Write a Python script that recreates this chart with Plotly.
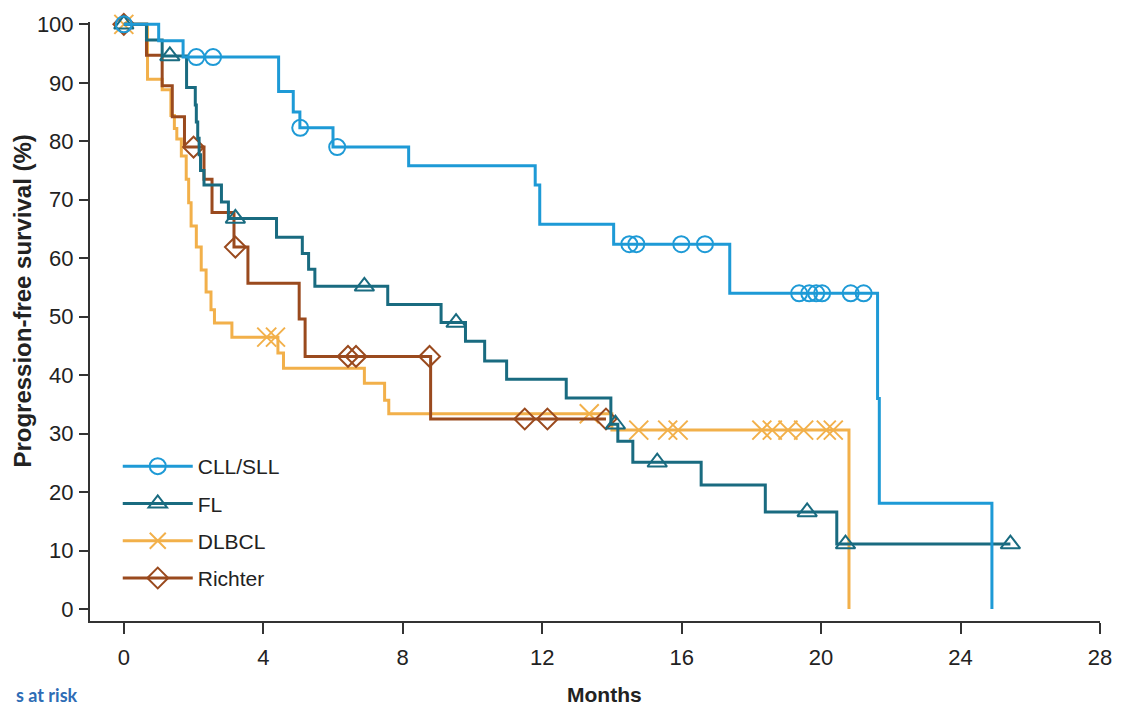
import plotly.graph_objects as go

# ---------------- data ----------------
# Kaplan-Meier step functions: event times (months) and survival (%) after each event
CLL_T = [0, 1.0, 1.7, 4.44, 4.86, 5.05, 6.0, 8.17, 11.8, 11.93, 14.05, 17.38, 21.62, 21.67, 24.9]
CLL_S = [100, 97.2, 94.4, 88.5, 85.0, 82.3, 79.0, 75.8, 72.5, 65.8, 62.4, 54.0, 36.0, 18.1, 0]
CLL_END = 24.9
CLL_CENS = [0, 2.08, 2.56, 5.06, 6.12, 14.5, 14.7, 15.99, 16.67, 19.37, 19.66, 19.86, 20.03, 20.85, 21.22]

FL_T = [0, 0.65, 1.1, 1.8, 2.05, 2.08, 2.12, 2.16, 2.2, 2.3, 2.8, 3.0, 4.38, 5.12, 5.3, 5.48,
        7.57, 9.1, 9.8, 10.35, 10.98, 12.69, 13.97, 14.17, 14.6, 16.56, 18.4, 20.45]
FL_S = [100, 97.3, 94.6, 89.2, 86.2, 83.3, 80.5, 77.7, 75.0, 72.5, 69.6, 66.8, 63.6, 60.8, 58.1, 55.2,
        52.1, 49.0, 45.8, 42.4, 39.3, 36.1, 31.6, 28.7, 25.1, 21.2, 16.6, 11.1]
FL_END = 25.43
FL_CENS = [0, 1.32, 3.2, 6.9, 9.53, 14.1, 15.3, 19.6, 20.7, 25.43]

DLBCL_T = [0, 0.68, 1.1, 1.35, 1.45, 1.52, 1.65, 1.79, 1.86, 1.93, 2.08, 2.22, 2.36, 2.5, 2.6,
           3.1, 4.42, 4.58, 6.9, 7.48, 7.6, 14.0, 20.8]
DLBCL_S = [100, 90.6, 88.8, 84.4, 82.2, 80.4, 77.5, 73.5, 69.5, 65.5, 61.9, 58.0, 54.2, 51.2, 48.9,
           46.5, 43.8, 41.2, 38.6, 35.7, 33.4, 30.6, 0]
DLBCL_END = 20.8
DLBCL_CENS = [0, 4.1, 4.35, 13.35, 14.77, 15.6, 15.9, 18.3, 18.6, 19.05, 19.5, 20.15, 20.35]

RICHTER_T = [0, 0.65, 1.1, 1.39, 1.74, 2.3, 2.53, 3.16, 3.56, 5.03, 5.2, 8.8]
RICHTER_S = [100, 94.7, 89.5, 84.2, 79.0, 73.5, 67.8, 61.9, 55.7, 49.6, 43.2, 32.5]
RICHTER_END = 13.83
RICHTER_CENS = [0, 2.0, 3.2, 6.43, 6.66, 8.77, 11.5, 12.15, 13.83]

SERIES = ["CLL/SLL", "FL", "DLBCL", "Richter"]
X_TICKS = [0, 4, 8, 12, 16, 20, 24, 28]
Y_TICKS = [0, 10, 20, 30, 40, 50, 60, 70, 80, 90, 100]

# ---------------- styles ----------------
COLORS = {"CLL/SLL": "#1E9AD6", "FL": "#196B80", "DLBCL": "#F2B04A", "Richter": "#9A4A1E"}
SYMBOLS = {"CLL/SLL": "circle-open", "FL": "triangle-up-open", "DLBCL": "x-thin-open", "Richter": "diamond-open"}
MSIZE = {"CLL/SLL": 16, "FL": 17, "DLBCL": 19, "Richter": 16}

DATA = {
    "CLL/SLL": (CLL_T, CLL_S, CLL_END, CLL_CENS),
    "FL": (FL_T, FL_S, FL_END, FL_CENS),
    "DLBCL": (DLBCL_T, DLBCL_S, DLBCL_END, DLBCL_CENS),
    "Richter": (RICHTER_T, RICHTER_S, RICHTER_END, RICHTER_CENS),
}


def surv_at(times, surv, t):
    val = surv[0]
    for ti, si in zip(times, surv):
        if ti <= t:
            val = si
    return val


fig = go.Figure()
draw_order = ["DLBCL", "Richter", "FL", "CLL/SLL"]
for name in draw_order:
    T, S, END, CENS = DATA[name]
    xs = list(T)
    ys = list(S)
    if END > T[-1]:
        xs.append(END)
        ys.append(S[-1])
    col = COLORS[name]
    fig.add_trace(go.Scatter(x=xs, y=ys, mode="lines", line=dict(color=col, width=3, shape="hv"),
                             showlegend=False, hoverinfo="skip"))
    fig.add_trace(go.Scatter(x=CENS, y=[surv_at(T, S, c) for c in CENS], mode="markers",
                             marker=dict(symbol=SYMBOLS[name], size=MSIZE[name], color=col,
                                         line=dict(color=col, width=2)),
                             cliponaxis=False, showlegend=False, hoverinfo="skip"))

# legend entries
for i, name in enumerate(SERIES):
    col = COLORS[name]
    fig.add_trace(go.Scatter(x=[None], y=[None], mode="lines+markers", name=name,
                             legendgroup=name,
                             line=dict(color=col, width=3),
                             marker=dict(symbol=SYMBOLS[name], size=MSIZE[name], color=col,
                                         line=dict(color=col, width=2))))

FONT = "Liberation Sans, Arial, sans-serif"
W, H = 1124, 708
L, R, T_, B = 90, 15, 22, 87
pw, ph = W - L - R, H - T_ - B


def px_x(p):
    return (p - L) / pw


def px_y(p):
    return (H - B - p) / ph


fig.update_layout(
    width=W, height=H,
    margin=dict(l=L, r=R, t=T_, b=B, pad=0),
    paper_bgcolor="white", plot_bgcolor="white",
    font=dict(family=FONT, size=21, color="#222222"),
    xaxis=dict(range=[-0.97, 28], tickvals=X_TICKS, ticktext=[str(v) for v in X_TICKS],
               showgrid=False, zeroline=False, showline=True, linecolor="#333333", linewidth=2,
               ticks="outside", ticklen=11, tickwidth=2, tickcolor="#333333",
               tickfont=dict(family=FONT, size=22, color="#222222"), ticklabelstandoff=5),
    yaxis=dict(range=[-2.05, 100.4], tickvals=Y_TICKS, ticktext=[str(v) for v in Y_TICKS],
               showgrid=False, zeroline=False, showline=True, linecolor="#333333", linewidth=2,
               ticks="outside", ticklen=9, tickwidth=2, tickcolor="#333333",
               tickfont=dict(family=FONT, size=22, color="#222222"), ticklabelstandoff=1),
    legend=dict(x=px_x(118), xanchor="left", y=px_y(446), yanchor="top",
                bgcolor="rgba(0,0,0,0)", font=dict(family=FONT, size=21, color="#222222"),
                itemwidth=70, tracegroupgap=7, itemclick=False),
    showlegend=True,
)

fig.add_annotation(text="<b>Progression-free survival (%)</b>", textangle=-90,
                   x=px_x(21), y=px_y(301), xref="paper", yref="paper",
                   xanchor="center", yanchor="middle", showarrow=False,
                   font=dict(family=FONT, size=24, color="#222222"))
fig.add_annotation(text="<b>Months</b>", x=px_x(609), y=px_y(694), xref="paper", yref="paper",
                   xanchor="center", yanchor="middle", showarrow=False,
                   font=dict(family=FONT, size=21, color="#222222"))
fig.add_annotation(text="<b>s at risk</b>", x=px_x(80), y=px_y(708), xref="paper", yref="paper",
                   xanchor="right", yanchor="bottom", showarrow=False,
                   font=dict(family="Lato, Open Sans, sans-serif", size=18, color="#2E6CB5"))

fig.write_html("out.html")
